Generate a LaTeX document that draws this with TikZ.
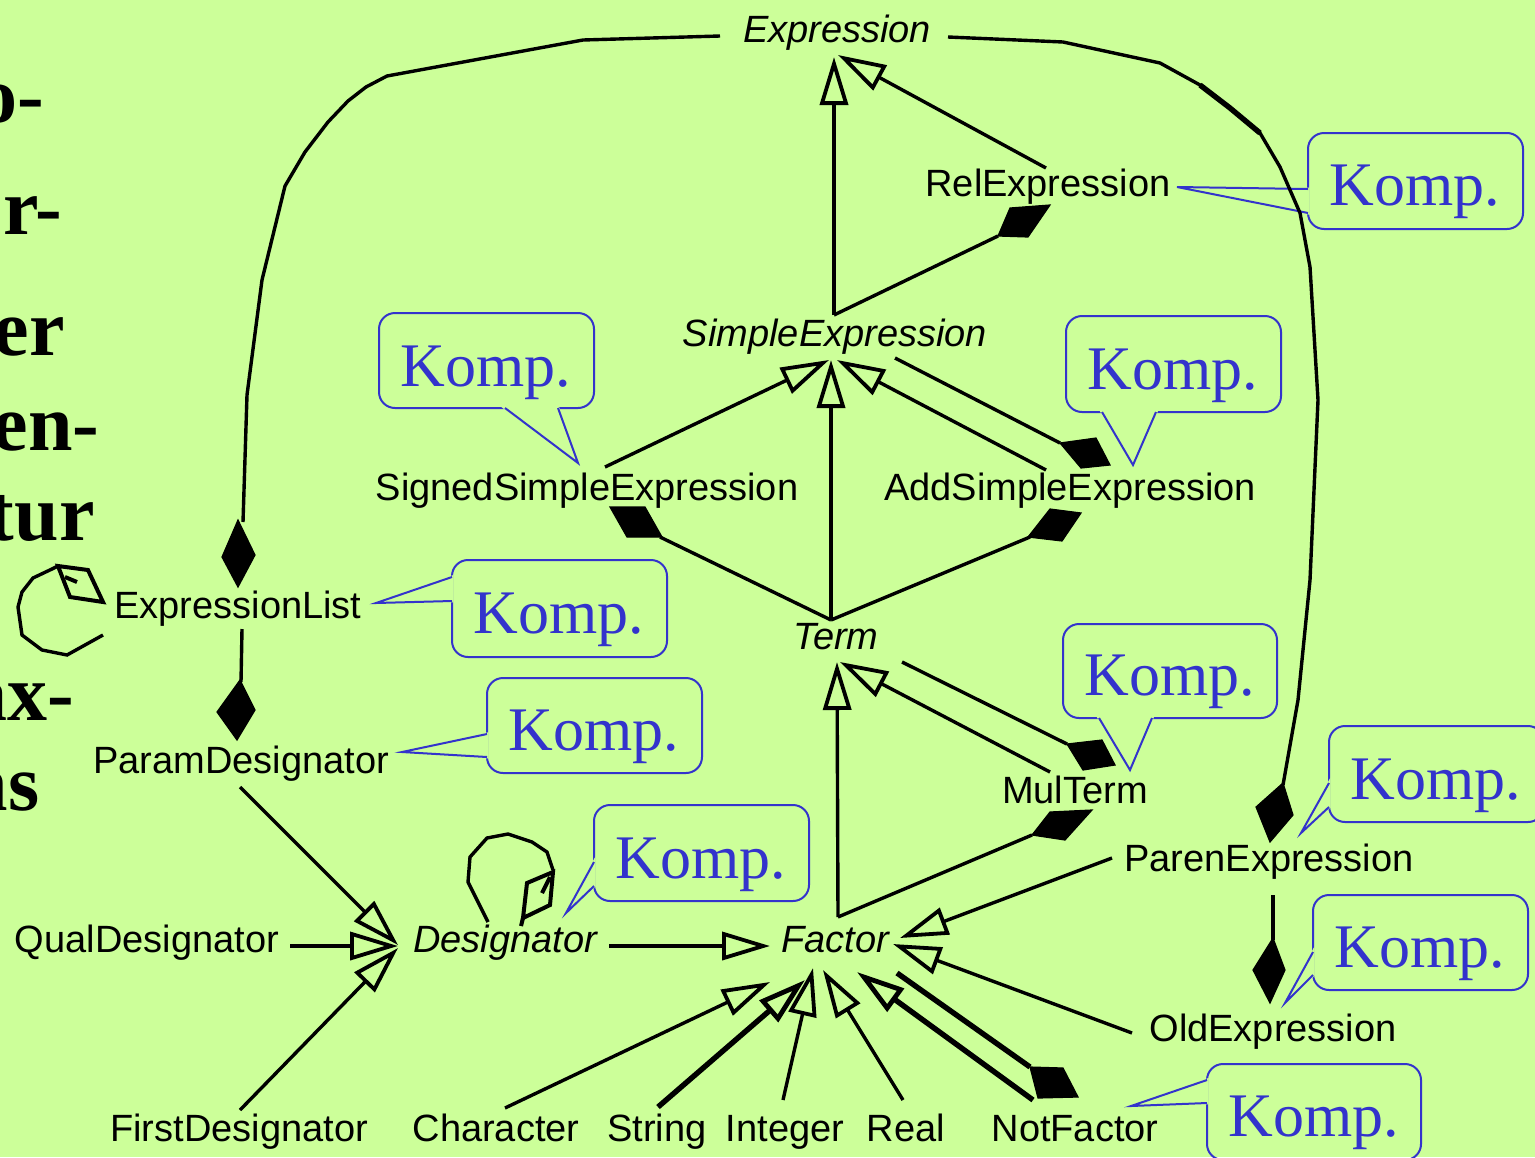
\documentclass[tikz,border=0pt]{standalone}
\usepackage{fontspec}
\setmainfont{Liberation Sans}
\newfontfamily\kompfont{Liberation Serif}
\newfontfamily\sidefont{Liberation Serif}
\usetikzlibrary{arrows.meta}
\definecolor{paper}{RGB}{204,255,153}
\definecolor{noteblue}{RGB}{51,51,204}

\tikzset{
  cls/.style={font=\fontsize{19}{22}\selectfont, inner sep=0pt, anchor=base},
  abstractcls/.style={font=\fontsize{19}{22}\selectfont\itshape, inner sep=0pt, anchor=base},
  kompnote/.style={font=\kompfont\fontsize{31}{34}\selectfont, text=noteblue, inner sep=0pt, anchor=base},
  sidetext/.style={font=\sidefont\bfseries\fontsize{40}{44}\selectfont, inner sep=0pt, anchor=base east},
  link/.style={line width=1.7pt, line join=miter},
  heavylink/.style={line width=2.7pt, line join=miter},
  gen/.style={-{Triangle[open,length=24pt,width=14pt,line width=1.9pt]}},
  heavygen/.style={-{Triangle[open,length=24pt,width=14pt,line width=2.4pt]}},
  whole/.style={fill=black, draw=black, line width=0.6pt, line join=miter},
  shared/.style={draw=black, line width=2pt, line join=miter},
  note/.style={draw=noteblue, line width=1pt},
  noteframe/.style={note, rounded corners=8pt},
}

% #1 name, #2 box corner, #3 opposite corner, #4 tail start, #5 tail tip, #6 tail end, #7 text base point
\newcommand\kompcallout[7]{%
  \draw[noteframe] #2 rectangle #3;
  \fill[paper, draw=paper, line width=1.4pt] #4 -- #5 -- #6 -- cycle;
  \draw[note, line join=miter] #4 -- #5 -- #6;
  \node[kompnote] (#1) at #7 {Komp.};
}

\begin{document}
\begin{tikzpicture}[x=0.5pt,y=-0.5pt]
\fill[paper] (0,0) rectangle (1535,1157);
\useasboundingbox (0,0) rectangle (1535,1157);

% heading fragments at the left border
\node[sidetext] (h1) at (45,122) {o-};
\node[sidetext] (h2) at (63,234) {r-};
\node[sidetext] (h3) at (65,355) {er};
\node[sidetext] (h4) at (100,450) {en-};
\node[sidetext] (h5) at (95,540) {tur};
\node[sidetext] (h6) at (75,720) {ax-};
\node[sidetext] (h7) at (40,810) {ns};

% notes
\kompcallout{kRel}{(1308,133)}{(1523,229)}{(1308,189)}{(1177,187)}{(1308,213)}{(1415,205)}
\kompcallout{kSigned}{(379,313)}{(594,408)}{(505,408)}{(578,463)}{(558,408)}{(486,386)}
\kompcallout{kAdd}{(1066,316)}{(1281,412)}{(1102,412)}{(1133,465)}{(1156,412)}{(1173,389)}
\kompcallout{kList}{(452,560)}{(667,657)}{(452,577)}{(376,603)}{(452,601)}{(559,633)}
\kompcallout{kParam}{(487,678)}{(702,773)}{(487,734)}{(402,752)}{(487,757)}{(594,750)}
\kompcallout{kDesig}{(594,805)}{(809,901)}{(594,862)}{(566,913)}{(594,886)}{(701,878)}
\kompcallout{kMul}{(1063,624)}{(1277,718)}{(1099,718)}{(1130,770)}{(1152,718)}{(1170,695)}
\kompcallout{kParen}{(1329,726)}{(1544,822)}{(1329,783)}{(1301,833)}{(1329,807)}{(1436,799)}
\kompcallout{kOld}{(1313,895)}{(1528,990)}{(1313,952)}{(1285,1003)}{(1313,975)}{(1420,967)}
\kompcallout{kNot}{(1207,1064)}{(1421,1160)}{(1207,1080)}{(1131,1106)}{(1207,1103)}{(1314,1136)}

% classes
\node[abstractcls] (Expr)   at (837,42)  {Expression};
\node[cls]         (Rel)    at (1048,196) {RelExpression};
\node[abstractcls] (SE)     at (835,346) {SimpleExpression};
\node[cls]         (SSE)    at (587,500) {SignedSimpleExpression};
\node[cls]         (ASE)    at (1070,500) {AddSimpleExpression};
\node[abstractcls] (Term)   at (836,649) {Term};
\node[cls]         (Mul)    at (1075,803) {MulTerm};
\node[cls]         (EL)     at (238,618) {ExpressionList};
\node[cls]         (PD)     at (241,773) {ParamDesignator};
\node[abstractcls] (Desig)  at (505,952) {Designator};
\node[cls]         (QD)     at (147,952) {QualDesignator};
\node[cls]         (FD)     at (239,1141) {FirstDesignator};
\node[abstractcls] (Factor) at (835,952) {Factor};
\node[cls]         (Paren)  at (1269,871) {ParenExpression};
\node[cls]         (Old)    at (1273,1041) {OldExpression};
\node[cls]         (Chr)    at (496,1141) {Character};
\node[cls]         (Str)    at (657,1141) {String};
\node[cls]         (Int)    at (785,1141) {Integer};
\node[cls]         (Real)   at (906,1141) {Real};
\node[cls]         (Not)    at (1075,1141) {NotFactor};

% attachment points
\coordinate (Expr-w) at (720,36);
\coordinate (Expr-e) at (948,37);
\coordinate (Expr-s) at (834,57);
\coordinate (Expr-se) at (838,55);
\coordinate (Rel-sw) at (1046,168);
\coordinate (Rel-d) at (998,236);
\coordinate (SE-n) at (834,315);
\coordinate (SE-s1) at (829,360);
\coordinate (SE-s2) at (831,360);
\coordinate (SE-s3) at (837,360);
\coordinate (SE-se) at (895,358);
\coordinate (SSE-ne) at (605,467);
\coordinate (SSE-d) at (660,537);
\coordinate (ASE-nw) at (1046,470);
\coordinate (ASE-du) at (1060,443);
\coordinate (ASE-dl) at (1030,537);
\coordinate (Term-n) at (831,620);
\coordinate (Term-s1) at (837,662);
\coordinate (Term-s2) at (840,662);
\coordinate (Term-se) at (902,662);
\coordinate (Mul-nw) at (1050,772);
\coordinate (Mul-du) at (1067,744);
\coordinate (Mul-dl) at (1032,835);
\coordinate (Factor-n) at (838,917);
\coordinate (Factor-w) at (770,946);
\coordinate (Factor-e1) at (900,938);
\coordinate (Factor-e2) at (893,944);
\coordinate (Factor-s1) at (770,982);
\coordinate (Factor-s2) at (805,980);
\coordinate (Factor-s3) at (813,968);
\coordinate (Factor-s4) at (823,970);
\coordinate (Factor-s5) at (857,972);
\coordinate (Factor-s6) at (897,973);
\coordinate (Not-d) at (1030,1067);
\coordinate (Not-n) at (1033,1100);
\coordinate (Desig-e) at (609,946);
\coordinate (Desig-w1) at (398,945);
\coordinate (Desig-w2) at (398,946);
\coordinate (Desig-w3) at (398,948);
\coordinate (PD-n) at (240,787);
\coordinate (PD-d) at (241,682);
\coordinate (QD-e) at (290,946);
\coordinate (FD-n) at (240,1110);
\coordinate (EL-s) at (242,629);
\coordinate (EL-d) at (243,522);
\coordinate (Paren-w) at (1112,858);
\coordinate (Paren-d) at (1283,785);
\coordinate (Paren-s) at (1273,895);
\coordinate (Old-d) at (1273,940);
\coordinate (Old-w) at (1132,1033);

% composition links (filled diamond at the whole)
\draw[link] (Expr-w) -- (583,40) -- (387,76) -- (366,87) -- (348,101) -- (328,122)
  -- (305,152) -- (285,186) -- (262,280) -- (247,395) -- (EL-d);
\fill[whole] (238,520) -- (255,555) -- (238,587) -- (222,557) -- cycle;
\draw[link] (Expr-e) -- (1063,42) -- (1160,63) -- (1200,85) -- (1230,108) -- (1260,133)
  -- (1280,167) -- (1300,213) -- (1310,267) -- (1318,400) -- (1310,580) -- (1298,700) -- (Paren-d);
\draw[heavylink] (1200,85) -- (1230,108) -- (1260,133);
\fill[whole] (1283,783) -- (1293,815) -- (1270,842) -- (1256,807) -- cycle;
\draw[link] (SE-n) -- (Rel-d);
\fill[whole] (998,236) -- (1010,208) -- (1050,205) -- (1028,237) -- cycle;
\draw[link] (Term-n) -- (SSE-d);
\fill[whole] (610,507) -- (645,507) -- (662,537) -- (627,537) -- cycle;
\draw[link] (Term-n) -- (ASE-dl);
\fill[whole] (1050,509) -- (1081,513) -- (1062,541) -- (1028,537) -- cycle;
\draw[link] (SE-se) -- (ASE-du);
\fill[whole] (1060,443) -- (1096,438) -- (1110,465) -- (1081,468) -- cycle;
\draw[link] (Term-se) -- (Mul-du);
\fill[whole] (1067,744) -- (1102,740) -- (1115,765) -- (1083,770) -- cycle;
\draw[link] (Factor-n) -- (Mul-dl);
\fill[whole] (1032,835) -- (1050,812) -- (1092,810) -- (1065,840) -- cycle;
\draw[heavylink] (Factor-s6) -- (Not-d);
\fill[whole] (1030,1067) -- (1063,1068) -- (1078,1097) -- (1038,1098) -- cycle;
\draw[link] (Paren-s) -- (Old-d);
\fill[whole] (1273,938) -- (1285,970) -- (1270,1003) -- (1253,970) -- cycle;
\draw[link] (EL-s) -- (PD-d);
\fill[whole] (240,680) -- (255,710) -- (237,740) -- (217,712) -- cycle;

% self references with open diamonds
\draw[link] (103,635) -- (67,655) -- (42,650) -- (22,635) -- (18,607) -- (22,592)
  -- (33,578) -- (52,569) -- (58,566);
\draw[shared] (58,566) -- (88,570) -- (103,602) -- (70,597) -- cycle;
\draw[shared] (65,577) -- (77,582);
\draw[link] (488,922) -- (468,882) -- (470,857) -- (487,838) -- (508,834) -- (532,842)
  -- (547,852) -- (553,870);
\draw[shared] (553,872) -- (550,905) -- (523,918) -- (527,883) -- cycle;
\draw[shared] (542,893) -- (550,877);
\draw[shared] (523,918) -- (521,926);

% generalizations
\draw[link, gen] (SE-n) -- (Expr-s);
\draw[link, gen] (Rel-sw) -- (Expr-se);
\draw[link, gen] (SSE-ne) -- (SE-s1);
\draw[link, gen] (Term-n) -- (SE-s2);
\draw[link, gen] (ASE-nw) -- (SE-s3);
\draw[link, gen] (Factor-n) -- (Term-s1);
\draw[link, gen] (Mul-nw) -- (Term-s2);
\draw[link, gen] (Desig-e) -- (Factor-w);
\draw[link, gen] (Paren-w) -- (Factor-e1);
\draw[link, gen] (Old-w) -- (Factor-e2);
\draw[link, gen] (505,1108) -- (Factor-s1);
\draw[heavylink, heavygen] (658,1107) -- (Factor-s2);
\draw[link, gen] (783,1100) -- (Factor-s3);
\draw[link, gen] (903,1100) -- (Factor-s4);
\draw[heavylink, heavygen] (Not-n) -- (Factor-s5);
\draw[link, gen] (PD-n) -- (Desig-w1);
\draw[link, gen] (QD-e) -- (Desig-w2);
\draw[link, gen] (FD-n) -- (Desig-w3);
\end{tikzpicture}
\end{document}
